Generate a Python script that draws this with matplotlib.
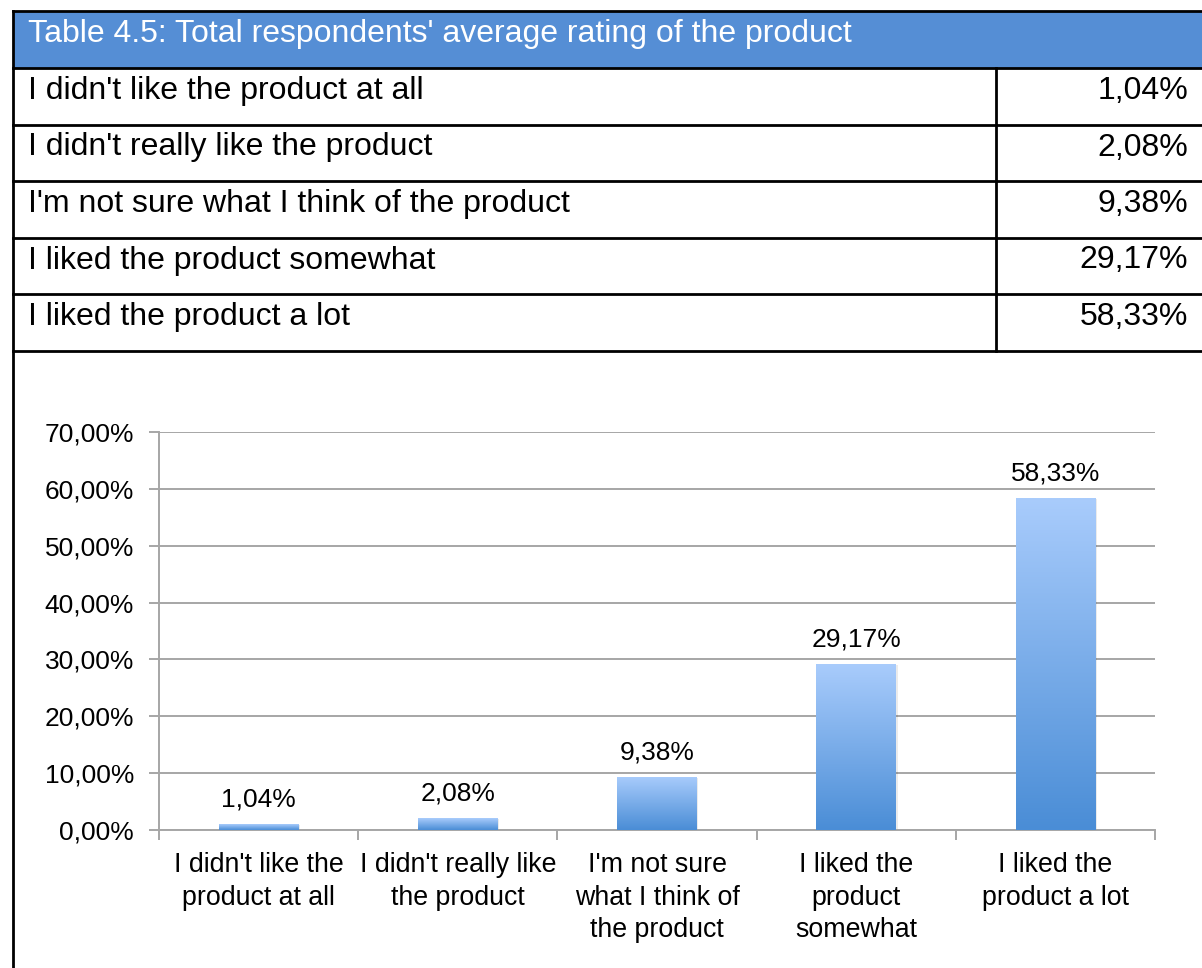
import matplotlib.pyplot as plt
import numpy as np
from matplotlib.colors import LinearSegmentedColormap
from matplotlib.patches import Rectangle

plt.rcParams['font.family'] = ['Liberation Sans', 'DejaVu Sans']

title = "Table 4.5: Total respondents' average rating of the product"
answers = ["I didn't like the product at all",
           "I didn't really like the product",
           "I'm not sure what I think of the product",
           "I liked the product somewhat",
           "I liked the product a lot"]
short_labels = ["I didn't like the\nproduct at all",
                "I didn't really like\nthe product",
                "I'm not sure\nwhat I think of\nthe product",
                "I liked the\nproduct\nsomewhat",
                "I liked the\nproduct a lot"]
shares = [1.04, 2.08, 9.38, 29.17, 58.33]
y_ticks = [0, 10, 20, 30, 40, 50, 60, 70]


def pct(v, digits=2):
    return f"{v:.{digits}f}%".replace('.', ',')


W, H = 1202, 968
fig = plt.figure(figsize=(W / 100, H / 100), dpi=100)

# table drawn in pixel space on a full-figure overlay
tab = fig.add_axes([0, 0, 1, 1])
tab.set_xlim(0, W)
tab.set_ylim(H, 0)
tab.axis('off')

left, top, head_h, row_h, split = 13, 11, 57, 56.5, 996
tab.add_patch(Rectangle((left, top), W - left, head_h, color='#558ED5', lw=0))
tab.text(28, top + 23, title, color='white', fontsize=23,
         va='center', ha='left')
lw = 2.0
tab.plot([left, W], [top, top], color='black', lw=lw)
tab.plot([left, left], [top, H], color='black', lw=lw)
row_top = top + head_h
for i, (a, s) in enumerate(zip(answers, shares)):
    y0 = row_top + i * row_h
    tab.plot([left, W], [y0, y0], color='black', lw=lw)
    tab.text(28, y0 + 23, a, fontsize=23, va='center', ha='left')
    tab.text(1188, y0 + 23, pct(s), fontsize=23, va='center', ha='right')
bottom = row_top + len(answers) * row_h
tab.plot([left, W], [bottom, bottom], color='black', lw=lw)
tab.plot([split, split], [row_top, bottom], color='black', lw=lw)

# bar chart
ax = fig.add_axes([159 / W, 1 - 830 / H, (1155 - 159) / W, (830 - 432) / H])
x = np.arange(len(shares))
bars = ax.bar(x, shares, width=0.4, color='none', zorder=3)
cmap = LinearSegmentedColormap.from_list('blu', ['#4A8DD6', '#A9CCFC'])
grad = np.linspace(0, 1, 256).reshape(-1, 1)
for b in bars:
    bx, by = b.get_x(), b.get_y()
    bw, bh = b.get_width(), b.get_height()
    # soft drop shadow
    ax.add_patch(Rectangle((bx + 0.008, by), bw, bh - 0.2, color='#000000',
                           alpha=0.08, lw=0, zorder=2))
    im = ax.imshow(grad, cmap=cmap, origin='lower', aspect='auto',
                   extent=(bx, bx + bw, by, by + bh), zorder=3)
    im.set_clip_path(b)
    ax.text(bx + bw / 2, bh + 2.2, pct(bh), ha='center', va='bottom', fontsize=19)

ax.set_xlim(-0.5, len(shares) - 0.5)
ax.set_ylim(0, 70)
ax.set_yticks(y_ticks)
ax.set_yticklabels([pct(t) for t in y_ticks], fontsize=19)
ax.yaxis.grid(True, color='#A6A6A6', lw=1.4, zorder=0)
ax.set_axisbelow(True)
ax.set_xticks(np.arange(-0.5, len(shares), 1.0))
ax.set_xticklabels([])
ax.set_xticks(x, minor=True)
ax.set_xticklabels(short_labels, minor=True, fontsize=19.3, linespacing=1.32,
                   va='top')
ax.tick_params(axis='x', which='minor', length=0, pad=16)
ax.tick_params(axis='both', which='major', length=7, color='#A6A6A6', width=1.4)
ax.tick_params(axis='y', pad=11)
for side in ['top', 'right']:
    ax.spines[side].set_visible(False)
for side in ['left', 'bottom']:
    ax.spines[side].set_color('#A6A6A6')
    ax.spines[side].set_linewidth(1.4)

fig.savefig('out.png', dpi=100)
